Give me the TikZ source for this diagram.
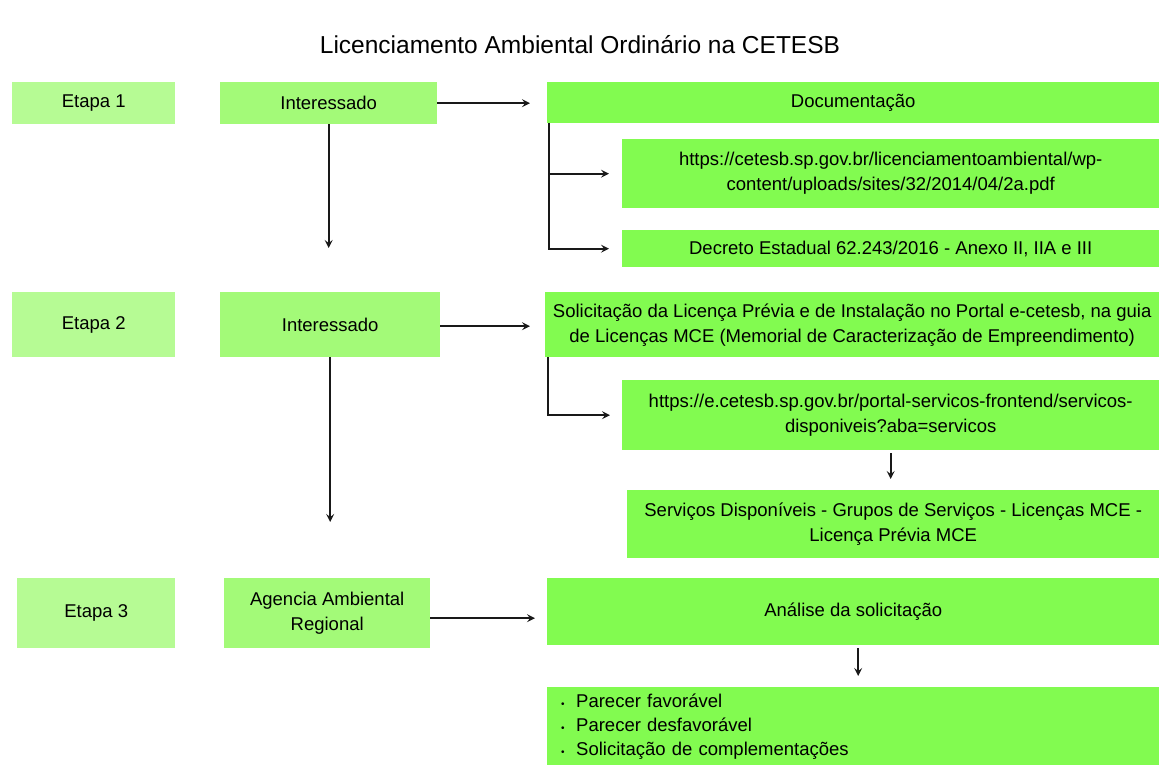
\documentclass[tikz,border=0pt]{standalone}
\usepackage{fontspec}
\setmainfont{Liberation Sans}
\usetikzlibrary{arrows.meta,calc,positioning}
\definecolor{etapaC}{HTML}{B6FB94}
\definecolor{interC}{HTML}{A3FA78}
\definecolor{mainC}{HTML}{82FB50}
\tikzset{
  bx/.style={anchor=north west, inner sep=2pt, align=center, font=\fontsize{18.5}{25}\selectfont},
  etapabox/.style={bx, fill=etapaC},
  interbox/.style={bx, fill=interC},
  mainbox/.style={bx, fill=mainC},
  arr/.style={line width=2pt, draw=black!90, -{Stealth[length=8pt,width=8pt,inset=3pt]}},
  ln/.style={line width=2pt}
}
\newcommand{\bul}{\makebox[15pt][l]{\fontsize{10}{10}\selectfont\raisebox{-0.5pt}{•}}}
\begin{document}
\begin{tikzpicture}[x=1pt,y=-1pt]
\useasboundingbox (0,0) rectangle (1159,765);
\node[font=\fontsize{24.5}{28}\selectfont] (title) at (580,45) {Licenciamento Ambiental Ordinário na CETESB};

% Etapa 1
\node[etapabox, minimum width=163pt, minimum height=42pt] (e1) at (12,82) {Etapa 1};
\node[interbox, minimum width=217pt, minimum height=42pt] (i1) at (220,82) {Interessado};
\node[mainbox, minimum width=612pt, minimum height=41pt] (d1) at (547,82) {Documentação};
\node[mainbox, minimum width=537pt, minimum height=69pt] (u1) at (622,139) {https://cetesb.sp.gov.br/licenciamentoambiental/wp-\\content/uploads/sites/32/2014/04/2a.pdf};
\node[mainbox, minimum width=537pt, minimum height=37pt] (dec) at (622,230) {Decreto Estadual 62.243/2016 - Anexo II, IIA e III};

% Etapa 2
\node[etapabox, minimum width=163pt, minimum height=65pt] (e2) at (12,292) {Etapa 2};
\node[interbox, minimum width=220pt, minimum height=65pt] (i2) at (220,292) {Interessado};
\node[mainbox, minimum width=614pt, minimum height=65pt] (s2) at (545,292) {Solicitação da Licença Prévia e de Instalação no Portal e-cetesb, na guia\\de Licenças MCE (Memorial de Caracterização de Empreendimento)};
\node[mainbox, minimum width=537pt, minimum height=70pt] (u2) at (622,380) {https://e.cetesb.sp.gov.br/portal-servicos-frontend/servicos-\\disponiveis?aba=servicos};
\node[mainbox, minimum width=532pt, minimum height=68pt] (sv) at (627,490) {Serviços Disponíveis - Grupos de Serviços - Licenças MCE -\\Licença Prévia MCE};

% Etapa 3
\node[etapabox, minimum width=158pt, minimum height=70pt] (e3) at (17,578) {Etapa 3};
\node[interbox, minimum width=206pt, minimum height=70pt] (a3) at (224,578) {Agencia Ambiental\\Regional};
\node[mainbox, minimum width=612pt, minimum height=67pt] (an) at (547,578) {Análise da solicitação};
\node[mainbox, minimum height=78pt, text width=584pt, align=left, inner xsep=14pt, inner ysep=3pt, font=\fontsize{18.5}{24}\selectfont] (bl) at (547,687) {\bul Parecer favorável\\\bul Parecer desfavorável\\\bul Solicitação de complementações};

% connectors
\draw[arr, shorten >=17pt] (i1.east) -- (i1.east -| d1.west);
\draw[arr, shorten >=44pt] (i1.south) -- (i1.south |- i2.north);
\draw[arr, shorten >=13pt] ([xshift=2pt]d1.south west) |- (u1.west);
\draw[arr, shorten >=13pt] ([xshift=2pt]d1.south west) |- (dec.west);

\draw[arr, shorten >=15pt] ([yshift=-1.5pt]i2.east) -- ([yshift=-1.5pt]i2.east -| s2.west);
\draw[arr, shorten >=56pt] (i2.south) -- (i2.south |- a3.north);
\draw[arr, shorten >=12pt] ([xshift=3pt]s2.south west) |- (u2.west);
\draw[arr, shorten <=3pt, shorten >=11pt] (u2.south) -- (u2.south |- sv.north);

\draw[arr, shorten >=12pt] ([yshift=-5pt]a3.east) -- ([yshift=-5pt]a3.east -| an.west);
\draw[arr, shorten <=3pt, shorten >=11pt] ([xshift=5pt]an.south) -- ([xshift=5pt]an.south |- bl.north);
\end{tikzpicture}
\end{document}
